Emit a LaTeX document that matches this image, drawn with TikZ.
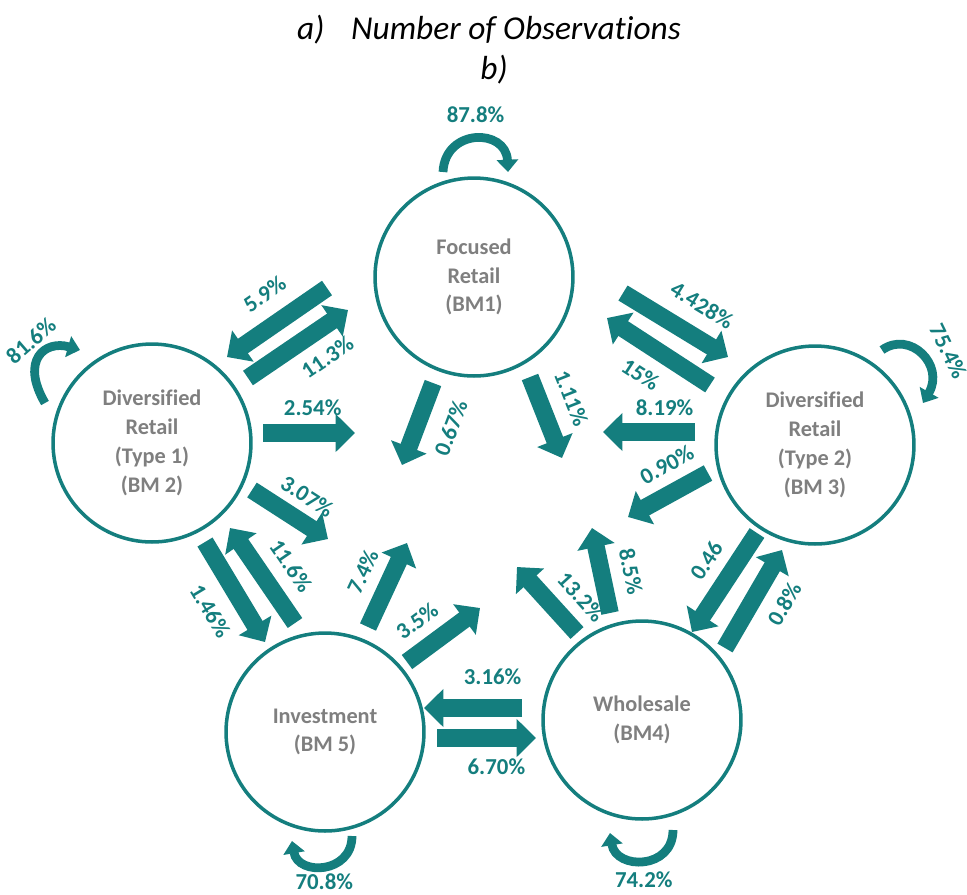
\documentclass[tikz,border=0pt]{standalone}
\usepackage{fontspec}
\setmainfont{Carlito}[Ligatures=NoCommon]
\usetikzlibrary{arrows.meta,calc}

\definecolor{bmteal}{RGB}{20,126,126}
\definecolor{bmgray}{RGB}{127,127,127}

\tikzset{
    bm/.style={draw=bmteal, circle, line width=2pt, minimum size=3.96cm, align=center, text=bmgray, font=\bfseries\fontsize{12.7}{16.4}\selectfont},
    flow/.style={draw=bmteal, line width=10pt, -{Triangle[length=11pt, width=21pt]}},
    selfloop/.style={draw=bmteal, line width=5pt, -{Triangle[length=7pt, width=12pt]}},
    pct/.style={text=bmteal, font=\bfseries\fontsize{13}{15}\selectfont, inner sep=1pt},
    caption/.style={font=\itshape\fontsize{19}{22}\selectfont}
}

\begin{document}
\begin{tikzpicture}[x=0.02cm, y=-0.02cm]
    \useasboundingbox (0,0) rectangle (967,894);

    \node (capa) [caption] at (489,30) {a)\hspace{0.8em}Number of Observations};
    \node (capb) [caption] at (494,70) {b)};

    \node (bm1) [bm] at (474,277) {Focused\\Retail\\(BM1)};
    \node (bm2) [bm] at (152,443) {Diversified\\Retail\\(Type 1)\\(BM 2)};
    \node (bm3) [bm] at (815,445) {Diversified\\Retail\\(Type 2)\\(BM 3)};
    \node (bm4) [bm] at (642,720) {Wholesale\\(BM4)};
    \node (bm5) [bm] at (325,732) {Investment\\(BM 5)};

    % staying in the same model
    \draw [selfloop] ($(bm1)+(-31,-105)$) .. controls +(2,-44) and +(-2,-44) .. node[pct, above=6pt] {87.8\%} ($(bm1)+(34,-105)$);
    \draw [selfloop] ($(bm2)+(-107,-40)$) .. controls +(-25,-43) and +(-35,-10) .. node[pct, sloped, above=2pt, pos=0.55] {81.6\%} ($(bm2)+(-72,-93)$);
    \draw [selfloop] ($(bm3)+(67,-95)$) .. controls +(28,-20) and +(22,-38) .. node[pct, sloped, above=6pt, pos=0.6] {75.4\%} ($(bm3)+(108,-42)$);
    \draw [selfloop] ($(bm5)+(27,104)$) .. controls +(0,38) and +(6,35) .. node[pct, below=1pt] {70.8\%} ($(bm5)+(-33,109)$);
    \draw [selfloop] ($(bm4)+(31,110)$) .. controls +(0,40) and +(6,37) .. node[pct, below=3pt] {74.2\%} ($(bm4)+(-32,113)$);

    % BM1 <-> BM2
    \draw [flow] ($(bm1)+(-147,11)$) -- node[pct, sloped, above=7pt, pos=0.45] {5.9\%} ++(-100,69);
    \draw [flow] ($(bm2)+(96,-65)$) -- node[pct, sloped, below=5pt, pos=0.64] {11.3\%} ++(100,-68);
    % BM1 <-> BM3
    \draw [flow] ($(bm1)+(149,16)$) -- node[pct, sloped, above=7pt, pos=0.6] {4.428\%} ++(105,64);
    \draw [flow] ($(bm3)+(-105,-60)$) -- node[pct, sloped, below=6pt, pos=0.52] {15\%} ++(-103,-67);
    % BM2 <-> BM5
    \draw [flow] ($(bm2)+(53,99)$) -- node[pct, sloped, below=7pt, pos=0.53] {1.46\%} ++(60,100);
    \draw [flow] ($(bm5)+(-30,-109)$) -- node[pct, sloped, above=6pt, pos=0.43] {11.6\%} ++(-65,-95);
    % BM3 <-> BM4
    \draw [flow] ($(bm3)+(-58,88)$) -- node[pct, sloped, above=5pt, pos=0.43] {0.46} ++(-65,99);
    \draw [flow] ($(bm4)+(83,-72)$) -- node[pct, sloped, below=6pt, pos=0.6] {0.8\%} ++(57,-98);
    % BM4 <-> BM5
    \draw [flow] ($(bm4)+(-120,-12)$) -- node[pct, above=7pt, pos=0.3] {3.16\%} ++(-98,0);
    \draw [flow] ($(bm5)+(112,6)$) -- node[pct, below=6pt, pos=0.6] {6.70\%} ++(99,0);

    % one-way flows towards the centre
    \draw [flow] ($(bm2)+(111,-10)$) -- node[pct, above=4pt, pos=0.54] {2.54\%} ++(92,0);
    \draw [flow] ($(bm2)+(100,47)$) -- node[pct, sloped, above=3.5pt, pos=0.55] {3.07\%} ++(76,49);
    \draw [flow] ($(bm1)+(-41,106)$) -- node[pct, sloped, below=8pt, pos=0.41] {0.67\%} ++(-31,82);
    \draw [flow] ($(bm1)+(56,100)$) -- node[pct, sloped, above=7pt, pos=0.4] {1.11\%} ++(32,81);
    \draw [flow] ($(bm3)+(-120,-13)$) -- node[pct, above=3.5pt, pos=0.33] {8.19\%} ++(-92,0);
    \draw [flow] ($(bm3)+(-107,28)$) -- node[pct, sloped, above=5pt, pos=0.35] {0.90\%} ++(-80,44);
    \draw [flow] ($(bm5)+(43,-105)$) -- node[pct, sloped, above=5.5pt, pos=0.52] {7.4\%} ++(39,-84);
    \draw [flow] ($(bm5)+(82,-70)$) -- node[pct, sloped, above=5pt, pos=0.36] {3.5\%} ++(73,-54);
    \draw [flow] ($(bm4)+(-65,-87)$) -- node[pct, sloped, above=5pt, pos=0.27] {13.2\%} ++(-60,-66);
    \draw [flow] ($(bm4)+(-32,-107)$) -- node[pct, sloped, above=6pt, pos=0.42] {8.5\%} ++(-18,-85);
\end{tikzpicture}
\end{document}
